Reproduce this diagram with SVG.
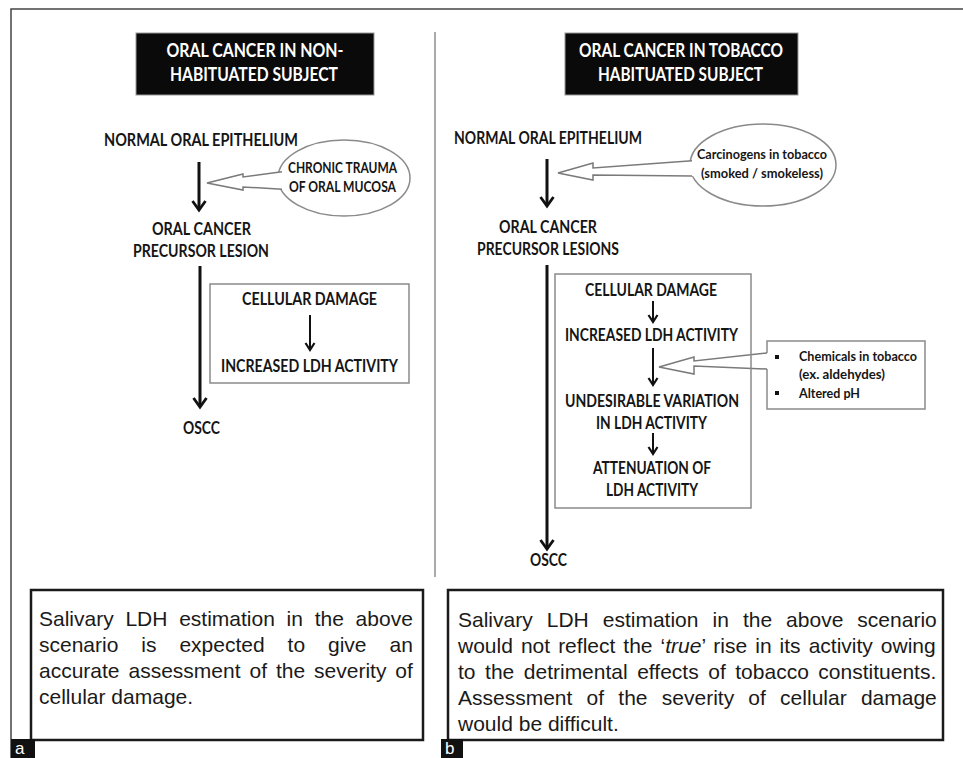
<svg xmlns="http://www.w3.org/2000/svg" width="963" height="758" viewBox="0 0 963 758">
<defs>
<style>
.lb{font-family:Lato,"Open Sans","Liberation Sans",sans-serif;font-weight:700;fill:#151515;text-anchor:middle}
.ttl{font-family:Lato,"Open Sans","Liberation Sans",sans-serif;font-weight:700;fill:#fff;text-anchor:middle;font-size:18.5px}
.m{font-size:16.5px}
.s{font-size:14.5px}
.xs{font-size:13.5px}
.body{font-family:"Liberation Sans",Arial,sans-serif;font-size:21px;fill:#1a1a1a}
.thick{stroke:#111;stroke-width:3;fill:none}
.thin{stroke:#111;stroke-width:2;fill:none}
.gbox{fill:#fff;stroke:#8a8a8a;stroke-width:1.5}
.gline{fill:none;stroke:#7a7a7a;stroke-width:1.5;stroke-linejoin:miter}
.patch{fill:#fff;stroke:none}
.bbox{fill:#fff;stroke:#1a1a1a;stroke-width:2.5}
.tag{fill:#111}
.tagt{font-family:"Liberation Sans",Arial,sans-serif;font-size:17px;fill:#fff}
</style>
<marker id="ah" markerUnits="userSpaceOnUse" viewBox="-12 -9 14 18" markerWidth="14" markerHeight="18" refX="0" refY="0" orient="auto" overflow="visible"><path d="M-9,-6.5 L0,0 L-9,6.5" fill="none" stroke="#111" stroke-width="2.8"/></marker>
<marker id="ahs" markerUnits="userSpaceOnUse" viewBox="-10 -7 12 14" markerWidth="12" markerHeight="14" refX="0" refY="0" orient="auto" overflow="visible"><path d="M-7,-4.5 L0,0 L-7,4.5" fill="none" stroke="#111" stroke-width="2.2"/></marker>
</defs>
<rect x="0" y="0" width="963" height="758" fill="#fff"/>

<g id="frame">
<path d="M11,758 V9 H963" fill="none" stroke="#444" stroke-width="1.5"/>
<line x1="435" y1="32" x2="435" y2="577" stroke="#aaa" stroke-width="2"/>
</g>

<!-- Left panel nodes -->
<g id="title-left">
<rect x="136" y="33" width="238" height="62" fill="#0a0a0a" stroke="#999" stroke-width="1"/>
<text class="ttl" x="255" y="57" textLength="177" lengthAdjust="spacingAndGlyphs">ORAL CANCER IN NON-</text>
<text class="ttl" x="254" y="81" textLength="168" lengthAdjust="spacingAndGlyphs">HABITUATED SUBJECT</text>
</g>
<g id="normal-left">
<text class="lb m" x="201" y="146" textLength="194" lengthAdjust="spacingAndGlyphs">NORMAL ORAL EPITHELIUM</text>
</g>
<g id="trauma-left">
<ellipse cx="344" cy="178" rx="66" ry="38" class="gbox"/>
<text class="lb s" x="342.5" y="173" textLength="109" lengthAdjust="spacingAndGlyphs">CHRONIC TRAUMA</text>
<text class="lb s" x="342.5" y="192" textLength="107" lengthAdjust="spacingAndGlyphs">OF ORAL MUCOSA</text>
</g>
<g id="precursor-left">
<text class="lb m" x="201.5" y="235" textLength="99" lengthAdjust="spacingAndGlyphs">ORAL CANCER</text>
<text class="lb m" x="201" y="257" textLength="136" lengthAdjust="spacingAndGlyphs">PRECURSOR LESION</text>
</g>
<g id="damage-box-left">
<rect x="210" y="284" width="199" height="99" fill="none" stroke="#8a8a8a" stroke-width="1.5"/>
<text class="lb m" x="309.5" y="305" textLength="135" lengthAdjust="spacingAndGlyphs">CELLULAR DAMAGE</text>
<text class="lb m" x="309.5" y="372" textLength="177" lengthAdjust="spacingAndGlyphs">INCREASED LDH ACTIVITY</text>
</g>
<g id="oscc-left">
<text class="lb m" x="201.5" y="434" textLength="37" lengthAdjust="spacingAndGlyphs">OSCC</text>
</g>

<!-- Right panel nodes -->
<g id="title-right">
<rect x="565" y="33" width="233" height="62" fill="#0a0a0a" stroke="#999" stroke-width="1"/>
<text class="ttl" x="681" y="57" textLength="204" lengthAdjust="spacingAndGlyphs">ORAL CANCER IN TOBACCO</text>
<text class="ttl" x="680.5" y="81" textLength="165" lengthAdjust="spacingAndGlyphs">HABITUATED SUBJECT</text>
</g>
<g id="normal-right">
<text class="lb m" x="548" y="144" textLength="188" lengthAdjust="spacingAndGlyphs">NORMAL ORAL EPITHELIUM</text>
</g>
<g id="carcinogens-right">
<ellipse cx="763" cy="165" rx="73" ry="41" class="gbox"/>
<text class="lb xs" x="762" y="159" textLength="130" lengthAdjust="spacingAndGlyphs">Carcinogens in tobacco</text>
<text class="lb xs" x="762" y="178" textLength="122" lengthAdjust="spacingAndGlyphs">(smoked / smokeless)</text>
</g>
<g id="precursor-right">
<text class="lb m" x="548" y="233" textLength="98" lengthAdjust="spacingAndGlyphs">ORAL CANCER</text>
<text class="lb m" x="548" y="255" textLength="142" lengthAdjust="spacingAndGlyphs">PRECURSOR LESIONS</text>
</g>
<g id="chemicals-right">
<rect x="767" y="341" width="158" height="68" class="gbox"/>
<rect x="775" y="355" width="4" height="4" fill="#111"/>
<rect x="775" y="391" width="4" height="4" fill="#111"/>
<text class="lb" style="font-size:13px;text-anchor:start" x="799" y="361" textLength="118" lengthAdjust="spacingAndGlyphs">Chemicals in tobacco</text>
<text class="lb" style="font-size:13px;text-anchor:start" x="799" y="379" textLength="86" lengthAdjust="spacingAndGlyphs">(ex. aldehydes)</text>
<text class="lb" style="font-size:13px;text-anchor:start" x="799" y="398" textLength="61" lengthAdjust="spacingAndGlyphs">Altered pH</text>
</g>
<g id="oscc-right">
<text class="lb m" x="548.5" y="566" textLength="37" lengthAdjust="spacingAndGlyphs">OSCC</text>
</g>

<!-- Connectors -->
<g id="connectors">
<path class="thick" d="M199,162 V210" marker-end="url(#ah)"/>
<path class="thick" d="M200,266 V407" marker-end="url(#ah)"/>
<path class="thin" d="M310,315 V350" marker-end="url(#ahs)"/>
<path class="thick" d="M547,159 V206" marker-end="url(#ah)"/>
<path class="thick" d="M547,265 V549" marker-end="url(#ah)"/>
<path class="thin" d="M653,301 V322" marker-end="url(#ahs)"/>
<path class="thin" d="M653,348 V385" marker-end="url(#ahs)"/>
<path class="thin" d="M653,433 V454" marker-end="url(#ahs)"/>
<!-- hollow callout arrows -->
<polygon class="patch" points="270,173.3 286,171.3 286,189.6 270,188.6"/>
<polyline class="gline" points="282,171.8 243,177 243,174 207,183 243,190 243,187 282,189.2"/>
<polygon class="patch" points="680,161.7 696,160.6 696,176.2 680,175.8"/>
<polyline class="gline" points="692,160.8 593,168 593,163 558,173 593,180 593,175 692,176"/>
<polygon class="patch" points="760,353.8 772,352.4 772,369.2 760,368.8"/>
<polyline class="gline" points="767,353 694,361 694,357 659,367 694,374 694,366 767,369"/>
</g>

<g id="damage-box-right">
<rect x="555" y="274" width="196" height="234" fill="none" stroke="#8a8a8a" stroke-width="1.5"/>
<text class="lb m" x="651" y="296" textLength="132" lengthAdjust="spacingAndGlyphs">CELLULAR DAMAGE</text>
<text class="lb m" x="651.5" y="341" textLength="173" lengthAdjust="spacingAndGlyphs">INCREASED LDH ACTIVITY</text>
<text class="lb m" x="652" y="407" textLength="174" lengthAdjust="spacingAndGlyphs">UNDESIRABLE VARIATION</text>
<text class="lb m" x="651.5" y="429" textLength="111" lengthAdjust="spacingAndGlyphs">IN LDH ACTIVITY</text>
<text class="lb m" x="652" y="474" textLength="118" lengthAdjust="spacingAndGlyphs">ATTENUATION OF</text>
<text class="lb m" x="652" y="496" textLength="92" lengthAdjust="spacingAndGlyphs">LDH ACTIVITY</text>
</g>

<!-- Bottom text boxes -->
<g id="note-left">
<rect x="31" y="590" width="392" height="150" class="bbox"/>
<text class="body" x="39" y="626" style="word-spacing:5.9px">Salivary LDH estimation in the above</text>
<text class="body" x="39" y="652" style="word-spacing:17.1px">scenario is expected to give an</text>
<text class="body" x="39" y="678" style="word-spacing:3.1px">accurate assessment of the severity of</text>
<text class="body" x="39" y="704">cellular damage.</text>
</g>
<g id="note-right">
<rect x="448" y="590" width="495" height="150" class="bbox"/>
<text class="body" x="458" y="627" style="word-spacing:8.2px">Salivary LDH estimation in the above scenario</text>
<text class="body" x="458" y="653" style="word-spacing:2.2px">would not reflect the ‘<tspan font-style="italic">true</tspan>’ rise in its activity owing</text>
<text class="body" x="458" y="679" style="word-spacing:3.7px">to the detrimental effects of tobacco constituents.</text>
<text class="body" x="458" y="705" style="word-spacing:8.4px">Assessment of the severity of cellular damage</text>
<text class="body" x="458" y="731">would be difficult.</text>
</g>

<g id="tag-a">
<rect x="11" y="739" width="24" height="19" class="tag"/>
<text class="tagt" x="15" y="754">a</text>
</g>
<g id="tag-b">
<rect x="441" y="739" width="22" height="19" class="tag"/>
<text class="tagt" x="445" y="754">b</text>
</g>
</svg>
